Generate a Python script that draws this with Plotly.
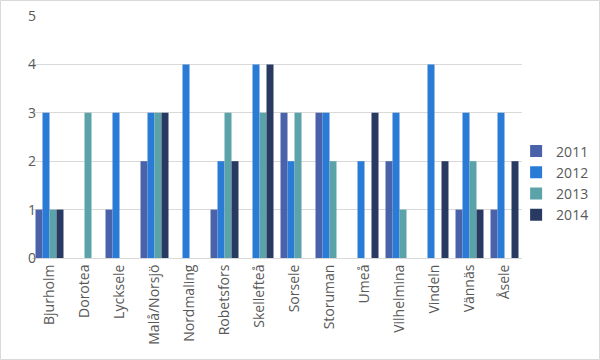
import plotly.graph_objects as go

categories = ["Bjurholm", "Dorotea", "Lycksele", "Malå/Norsjö", "Nordmaling", "Robetsfors",
              "Skellefteå", "Sorsele", "Storuman", "Umeå", "Vilhelmina", "Vindeln", "Vännäs", "Åsele"]
years = ["2011", "2012", "2013", "2014"]
v2011 = [1, 0, 1, 2, 0, 1, 0, 3, 3, 0, 2, 0, 1, 1]
v2012 = [3, 0, 3, 3, 4, 2, 4, 2, 3, 2, 3, 4, 3, 3]
v2013 = [1, 3, 0, 3, 0, 3, 3, 3, 2, 0, 1, 0, 2, 0]
v2014 = [1, 0, 0, 3, 0, 2, 4, 0, 0, 3, 0, 2, 1, 2]
series = [v2011, v2012, v2013, v2014]
colors = ["#4A62AA", "#2A7BD6", "#5BA3A8", "#283A62"]

fig = go.Figure()
for name, vals, c in zip(years, series, colors):
    fig.add_trace(go.Bar(x=categories, y=vals, name=name, marker_color=c, marker_line_width=0))

fig.update_layout(
    width=600, height=360,
    margin=dict(l=32, r=78, t=16, b=102, autoexpand=False),
    barmode="group", bargap=0.2, bargroupgap=0,
    plot_bgcolor="white", paper_bgcolor="white",
    font=dict(family="Open Sans", size=13, color="#595959"),
    legend=dict(x=0.988, y=0.31, yanchor="middle", xanchor="left", bgcolor="rgba(0,0,0,0)",
                font=dict(size=14, color="#595959"), tracegroupgap=0, itemwidth=30),
    xaxis=dict(tickangle=-90, showgrid=False, showline=True, linecolor="#D9D9D9",
               ticks="", tickfont=dict(size=14)),
    yaxis=dict(range=[0, 5], dtick=1, showgrid=True, gridcolor="#D9D9D9",
               zeroline=False, ticks="", tickfont=dict(size=14), showline=False,
               ticklabelstandoff=-5),
    shapes=[dict(type="rect", xref="paper", yref="paper",
                 x0=-31.5 / 490, x1=(490 + 77.5) / 490, y0=-101.5 / 242, y1=(242 + 15.5) / 242,
                 line=dict(color="#D9D9D9", width=1))],
)
fig.write_html("out.html", config={"displayModeBar": False},
               post_script="document.body.style.margin='0';")
